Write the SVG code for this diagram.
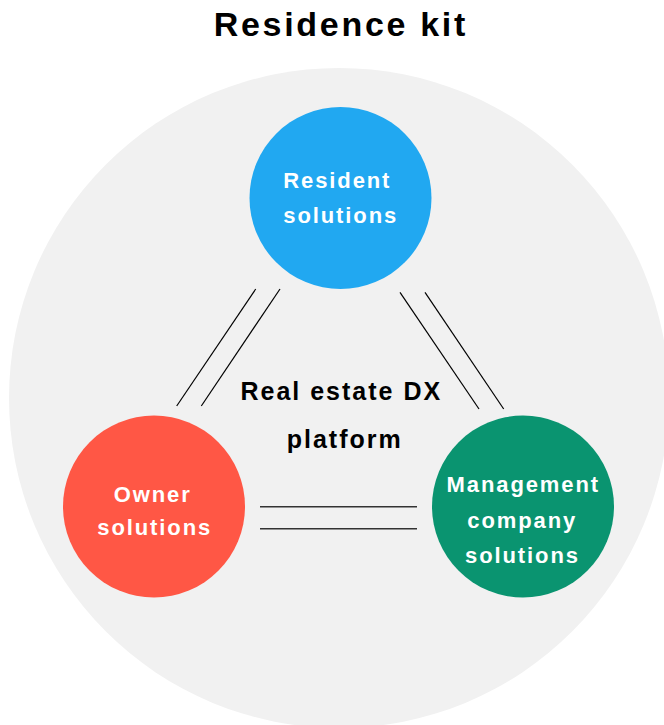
<svg xmlns="http://www.w3.org/2000/svg" width="664" height="725" viewBox="0 0 664 725">
<style>
.title{font-family:"Liberation Sans",Arial,sans-serif;font-weight:bold;font-size:34px;letter-spacing:2.7px;fill:#000;text-anchor:middle}
.node{font-family:"Liberation Sans",Arial,sans-serif;font-weight:bold;font-size:22px;letter-spacing:1.9px;fill:#fff;text-anchor:middle}
.center{font-family:"Liberation Sans",Arial,sans-serif;font-weight:bold;font-size:25px;letter-spacing:2px;fill:#000;text-anchor:middle}
.conn{stroke:#000;stroke-width:1.2;fill:none}
.conn2{stroke:#333;stroke-width:1.6;fill:none}
</style>
<rect width="664" height="725" fill="#fff"/>
<text class="title" x="340.9" y="36">Residence kit</text>
<g id="platform">
<circle cx="339" cy="398" r="330" fill="#f1f1f1"/>
<text class="center" x="341.3" y="400">Real estate DX</text>
<text class="center" x="344.7" y="448">platform</text>
</g>
<g id="connectors">
<line class="conn" x1="255.7" y1="289" x2="176.7" y2="406"/>
<line class="conn" x1="280" y1="289" x2="201.3" y2="406"/>
<line class="conn" x1="400" y1="292.3" x2="479" y2="409"/>
<line class="conn" x1="425" y1="292.3" x2="503.7" y2="409"/>
<line class="conn2" x1="260" y1="506.8" x2="417" y2="506.8"/>
<line class="conn2" x1="260" y1="528.8" x2="417" y2="528.8"/>
</g>
<g id="resident">
<circle cx="340.5" cy="198" r="91" fill="#21a8f1"/>
<text class="node" x="337.3" y="188.3">Resident</text>
<text class="node" x="340.7" y="223.3">solutions</text>
</g>
<g id="owner">
<circle cx="154" cy="506.5" r="91" fill="#ff5745"/>
<text class="node" x="152.7" y="501.7">Owner</text>
<text class="node" x="154.7" y="535">solutions</text>
</g>
<g id="management">
<circle cx="523" cy="506.5" r="91" fill="#0a9470"/>
<text class="node" x="523.3" y="492.3">Management</text>
<text class="node" x="522.2" y="527.8">company</text>
<text class="node" x="522.5" y="563.3">solutions</text>
</g>
</svg>
